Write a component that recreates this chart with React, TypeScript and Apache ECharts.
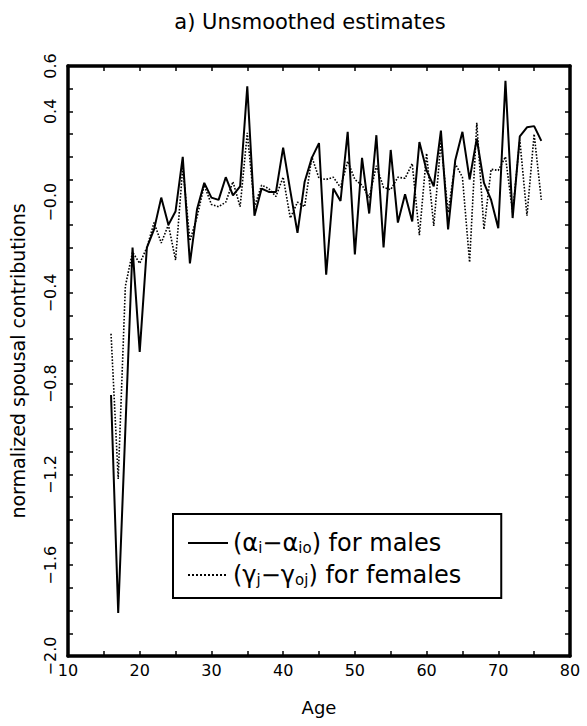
import React, { useEffect, useRef } from 'react';
import * as echarts from 'echarts';

// Age in years (x axis)
const ages = [
  16, 17, 18, 19, 20, 21, 22, 23, 24, 25, 26, 27, 28, 29, 30, 31, 32, 33, 34, 35,
  36, 37, 38, 39, 40, 41, 42, 43, 44, 45, 46, 47, 48, 49, 50, 51, 52, 53, 54, 55,
  56, 57, 58, 59, 60, 61, 62, 63, 64, 65, 66, 67, 68, 69, 70, 71, 72, 73, 74, 75, 76,
];

// (alpha_i - alpha_io): unsmoothed male contributions
const maleContrib = [
  -0.85, -1.81, -1.0, -0.2, -0.66, -0.2, -0.12, 0.02, -0.1, -0.04, 0.2, -0.27, -0.03, 0.085, 0.02,
  0.01, 0.11, 0.03, 0.07, 0.51, -0.06, 0.06, 0.045, 0.045, 0.24, 0.05, -0.135, 0.09, 0.195, 0.26,
  -0.32, 0.06, 0.005, 0.31, -0.23, 0.195, -0.05, 0.295, -0.2, 0.23, -0.09, 0.035, -0.085, 0.265, 0.14,
  0.07, 0.315, -0.12, 0.185, 0.31, 0.1, 0.28, 0.085, 0.01, -0.115, 0.535, -0.07, 0.29, 0.33, 0.335,
  0.27,
];

// (gamma_j - gamma_oj): unsmoothed female contributions
const femaleContrib = [
  -0.58, -1.22, -0.37, -0.22, -0.27, -0.2, -0.09, -0.18, -0.1, -0.255, 0.155, -0.17, -0.065, 0.075, -0.01,
  -0.02, 0.0, 0.09, -0.02, 0.305, -0.02, 0.075, 0.06, 0.025, 0.11, -0.07, 0.0, -0.02, 0.2, 0.105,
  0.1, 0.11, 0.065, 0.18, 0.1, 0.075, 0.02, 0.16, 0.065, 0.055, 0.11, 0.105, 0.17, -0.145, 0.215,
  -0.105, 0.265, -0.045, 0.17, 0.11, -0.265, 0.35, -0.12, 0.145, 0.14, 0.2, -0.045, 0.275, -0.06, 0.3,
  0.01,
];

const X_MIN = 10;
const X_MAX = 80;
const X_STEP = 5;
const Y_MIN = -2.0;
const Y_MAX = 0.6;
const Y_STEP = 0.1;

const FONT = "'DejaVu Sans', sans-serif";
const INK = '#000';

const legendText: Record<string, string> = {
  males: '{t|(α}{s|i}{t|−α}{s|io}{t|) for males}',
  females: '{t|(γ}{s|j}{t|−γ}{s|oj}{t|) for females}',
};

const xLabel = (v: number) => {
  const k = Math.round(v);
  return k % 10 === 0 ? String(k) : '';
};

const yLabel = (v: number) => {
  const k = Math.round((v - Y_MIN) / Y_STEP);
  const top = Math.round((Y_MAX - Y_MIN) / Y_STEP);
  if (k % 4 !== 0 && k !== top) return '';
  const r = Math.round(v * 10) / 10;
  const s = Math.abs(r).toFixed(1);
  return r <= 0 ? '−' + s : s;
};

const frameLine = { show: true, onZero: false, lineStyle: { color: INK, width: 3.5 } };
const innerTick = { show: true, inside: true, length: 5, lineStyle: { color: INK, width: 1.5 } };

export default function App() {
  const ref = useRef<HTMLDivElement>(null);

  useEffect(() => {
    if (!ref.current) return;
    const chart = echarts.init(ref.current, undefined, { renderer: 'svg' });

    const males = ages.map((a, i) => [a, maleContrib[i]]);
    const females = ages.map((a, i) => [a, femaleContrib[i]]);

    const xBase = {
      type: 'value' as const,
      min: X_MIN,
      max: X_MAX,
      interval: X_STEP,
      axisLine: frameLine,
      axisTick: innerTick,
      splitLine: { show: false },
    };
    const yBase = {
      type: 'value' as const,
      min: Y_MIN,
      max: Y_MAX,
      interval: Y_STEP,
      axisLine: frameLine,
      axisTick: innerTick,
      splitLine: { show: false },
    };

    chart.setOption({
      animation: false,
      backgroundColor: '#fff',
      grid: { left: 67, right: 17, top: 66, bottom: 70, containLabel: false },
      graphic: [
        {
          type: 'text',
          x: 310,
          y: 22,
          style: {
            text: 'a) Unsmoothed estimates',
            fontSize: 21,
            fontFamily: FONT,
            fill: INK,
            align: 'center',
            verticalAlign: 'middle',
          },
        },
      ],
      xAxis: [
        {
          ...xBase,
          position: 'bottom',
          name: 'Age',
          nameLocation: 'middle',
          nameGap: 42,
          nameTextStyle: { fontFamily: FONT, fontSize: 18, color: INK },
          axisLabel: {
            show: true,
            margin: 6,
            formatter: xLabel,
            fontFamily: FONT,
            fontSize: 16,
            color: INK,
            showMinLabel: true,
            showMaxLabel: true,
          },
        },
        { ...xBase, position: 'top', axisLabel: { show: false } },
      ],
      yAxis: [
        {
          ...yBase,
          position: 'left',
          name: 'normalized spousal contributions',
          nameLocation: 'middle',
          nameGap: 41,
          nameTextStyle: { fontFamily: FONT, fontSize: 19, color: INK },
          axisLabel: {
            show: true,
            rotate: 90,
            margin: 10,
            formatter: yLabel,
            fontFamily: FONT,
            fontSize: 16,
            color: INK,
            showMinLabel: true,
            showMaxLabel: true,
          },
        },
        { ...yBase, position: 'right', axisLabel: { show: false } },
      ],
      legend: {
        orient: 'vertical',
        left: 173,
        top: 514,
        itemWidth: 40,
        itemHeight: 14,
        itemGap: 8,
        padding: [17, 40, 11, 14],
        borderColor: INK,
        borderWidth: 2,
        backgroundColor: '#fff',
        selectedMode: false,
        itemStyle: { opacity: 0, color: 'transparent', borderWidth: 0 },
        data: ['males', 'females'],
        formatter: (name: string) => legendText[name],
        textStyle: {
          fontFamily: FONT,
          fontSize: 24,
          color: INK,
          rich: {
            t: { fontFamily: FONT, fontSize: 24, color: INK },
            s: { fontFamily: FONT, fontSize: 15, color: INK, verticalAlign: 'bottom' },
          },
        },
      },
      series: [
        {
          name: 'males',
          type: 'line',
          data: males,
          showSymbol: false,
          symbol: 'none',
          lineStyle: { color: INK, width: 2, type: 'solid' },
          itemStyle: { color: INK },
        },
        {
          name: 'females',
          type: 'line',
          data: females,
          showSymbol: false,
          symbol: 'none',
          lineStyle: { color: INK, width: 1.6, type: 'dotted' },
          itemStyle: { color: INK },
        },
      ],
    });

    return () => chart.dispose();
  }, []);

  return (
    <div
      ref={ref}
      style={{ position: 'absolute', left: 0, top: 0, width: 587, height: 726, background: '#fff' }}
    />
  );
}
